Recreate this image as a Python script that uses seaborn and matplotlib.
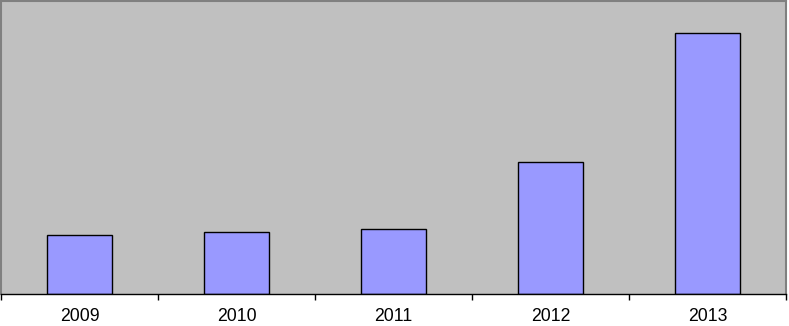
import numpy as np
import pandas as pd
import seaborn as sns
import matplotlib.pyplot as plt

# Data (no y-axis scale shown)
years = ["2009", "2010", "2011", "2012", "2013"]
values = [59, 62, 65, 132, 261]

df = pd.DataFrame({"Year": years, "Value": values})

sns.set_style("white")
plt.rcParams['font.family'] = ['Liberation Sans', 'DejaVu Sans']

fig = plt.figure(figsize=(7.89, 3.26), dpi=100)
ax = fig.add_axes([1 / 789, 32 / 326, 785 / 789, 293 / 326])
ax.set_facecolor("#C0C0C0")

sns.barplot(x="Year", y="Value", data=df, color="#9999FF", width=0.41,
            edgecolor="black", linewidth=1, saturation=1, ax=ax)

ax.set_xlim(-0.5, 4.5)
ax.set_ylim(0, 293)
ax.set_xlabel("")
ax.set_ylabel("")
ax.set_yticks([])

# Excel-style ticks between categories
ax.set_xticks(np.arange(-0.5, 5, 1), minor=True)
ax.tick_params(axis="x", which="minor", direction="out", length=4, width=1, color="black", bottom=True)
ax.tick_params(axis="x", which="major", length=0, pad=10, labelsize=12.7, labelcolor="black")

for side in ["top", "right", "left"]:
    ax.spines[side].set_color("#808080")
    ax.spines[side].set_linewidth(1.5)
ax.spines["bottom"].set_color("black")
ax.spines["bottom"].set_linewidth(1)

fig.savefig("out.png", dpi=100)
